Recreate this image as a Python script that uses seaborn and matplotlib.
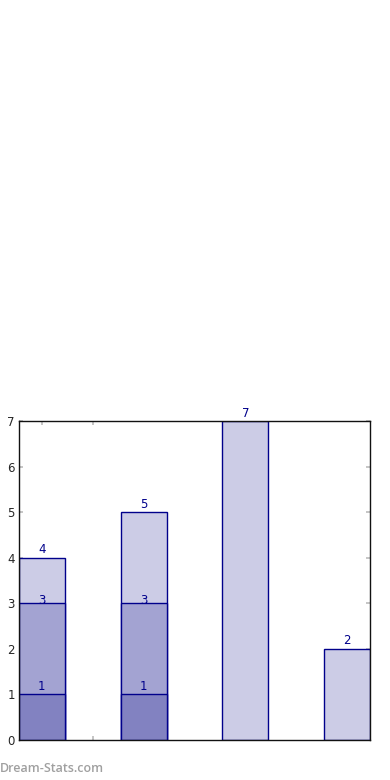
import matplotlib
matplotlib.use("Agg")
import matplotlib.pyplot as plt
import seaborn as sns
import numpy as np
import pandas as pd

categories = ["A", "B", "C", "D"]
layer_top = [4, 5, 7, 2]       # lightest, full height
layer_mid = [3, 3, np.nan, np.nan]
layer_low = [1, 1, np.nan, np.nan]
y_ticks = [0, 1, 2, 3, 4, 5, 6, 7]

colors = ["#ccccE6", "#a3a3d2", "#8282c1"]
edge = "#00008b"

sns.set_style("white")
plt.rcParams['font.family'] = ['DejaVu Sans']

fig = plt.figure(figsize=(3.9, 7.8), dpi=100)
ax = fig.add_axes([19/390, 40/780, 351/390, 319/780])

for vals, col, off in zip([layer_top, layer_mid, layer_low], colors, [1.0, -2.5, 1.0]):
    df = pd.DataFrame({"cat": categories, "val": vals})
    sns.barplot(data=df, x="cat", y="val", color=col, width=0.45,
                edgecolor=edge, linewidth=1.0, saturation=1, ax=ax, errorbar=None)
    for i, v in enumerate(vals):
        if not np.isnan(v):
            ax.annotate(f"{int(v)}", (i, v), xytext=(0, off), textcoords="offset points",
                        ha="center", va="bottom", color=edge, fontsize=8.5)

ax.set_xlim(-0.225, 3.225)
ax.set_ylim(0, 7)
ax.set_xticks([0, 0.5])
ax.set_xticklabels([])
ax.set_yticks(y_ticks)
ax.set_yticklabels([str(t) for t in y_ticks], fontsize=8.5)
ax.set_xlabel("")
ax.set_ylabel("")
ax.tick_params(axis="both", direction="in", length=3, width=1.2, color="#bbbbbb",
               top=True, right=True, bottom=True, left=True, pad=3)
for s in ax.spines.values():
    s.set_color("#111111")
    s.set_linewidth(1.0)

fig.text(0.0, 0.006, "Dream-Stats.com", color="#a0a0a0", fontsize=9,
         fontweight="semibold", family=["Open Sans", "DejaVu Sans"],
         ha="left", va="bottom")

fig.savefig("out.png", dpi=100)
